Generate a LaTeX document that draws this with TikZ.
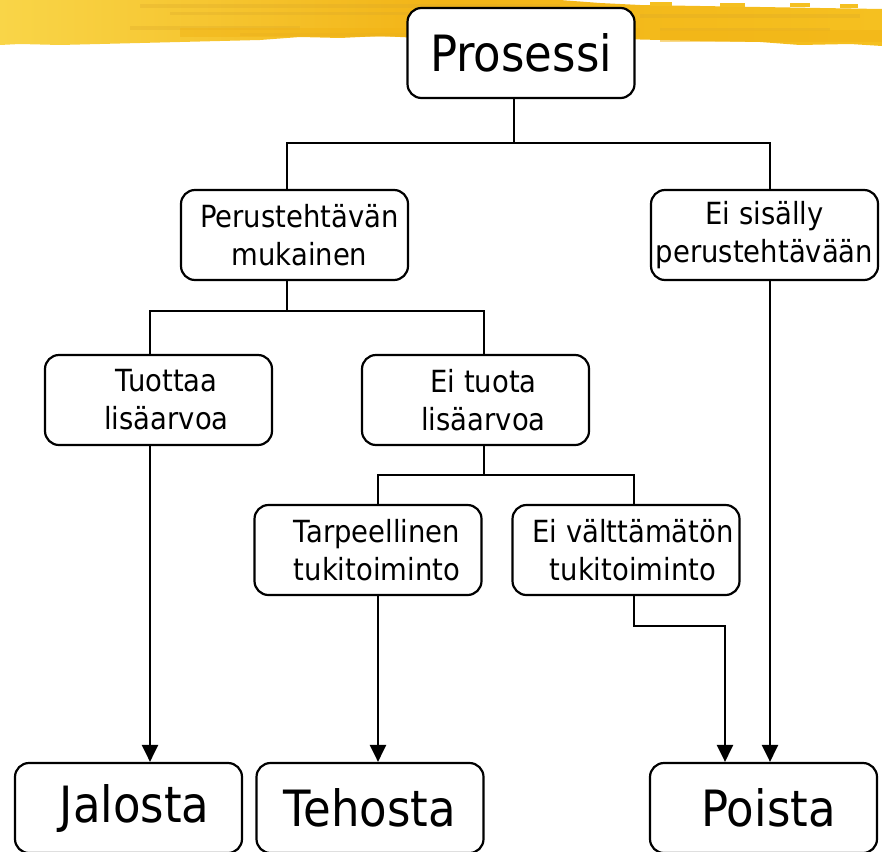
\documentclass[tikz,border=0pt]{standalone}
\usepackage{fontspec}
\setmainfont{DejaVu Sans}[FakeStretch=0.9]
\usetikzlibrary{arrows.meta}
\definecolor{brushA}{HTML}{F9D548}
\definecolor{brushB}{HTML}{F5C020}
\definecolor{brushC}{HTML}{F2B416}
\definecolor{brushD}{HTML}{D8A62A}
\tikzset{
  box/.style={draw, line width=2.2pt, rounded corners=14pt, fill=white,
    minimum width=227pt, minimum height=90pt, inner sep=0pt, align=center},
  small/.style={box, font=\fontsize{30.5}{38}\selectfont},
  big/.style={box, font=\fontsize{50}{60}\selectfont},
  wire/.style={line width=2.5pt},
  arr/.style={wire, -{Triangle[length=17pt,width=16pt]}},
  streak/.style={fill=brushD, opacity=0.28},
}
\newcommand{\sh}[1]{\hspace*{#1}}
\begin{document}
\begin{tikzpicture}[x=1pt,y=-1pt]
\useasboundingbox (0,0) rectangle (882,851);

% painted banner across the top
\shade[left color=brushA, right color=brushB, middle color=brushC]
  (0,0) -- (560,0) -- (600,3) -- (640,5) -- (700,6) -- (760,7) -- (820,8) -- (882,9)
  -- (882,46) -- (850,44) -- (800,45) -- (760,42) -- (700,41) -- (660,40)
  -- (620,39) -- (580,38) -- (520,39) -- (460,38) -- (420,38) -- (380,36)
  -- (340,38) -- (300,37) -- (260,40) -- (220,41) -- (180,42) -- (140,43)
  -- (100,44) -- (60,45) -- (20,44) -- (0,45) -- cycle;
\fill[streak] (140,4) rectangle (560,8);
\fill[streak] (170,12) rectangle (520,15);
\fill[streak] (130,26) rectangle (300,30);
\fill[streak] (240,33) rectangle (420,36);
\fill[streak] (640,14) rectangle (860,18);
\fill[streak] (660,28) rectangle (830,31);
\fill[brushC, opacity=0.5] (180,28) rectangle (640,37);
\fill[brushC, opacity=0.5] (660,30) rectangle (882,42);
\fill[brushB] (650,2) rectangle (672,6);
\fill[brushB] (720,3) rectangle (745,7);
\fill[brushB] (790,3) rectangle (810,7);
\fill[brushB] (840,4) rectangle (858,8);

% boxes
\node[big]   (pros)  at (521,53)    {Prosessi};
\node[small] (peru)  at (294.5,235) {\sh{10pt}Perustehtävän\\\sh{10pt}mukainen};
\node[small] (eisis) at (764.5,235) {Ei sisälly\\perustehtävään};
\node[small] (tuot)  at (158.5,400) {\sh{16pt}Tuottaa\\\sh{16pt}lisäarvoa};
\node[small] (eituo) at (475.5,400) {\sh{16pt}Ei tuota\\\sh{16pt}lisäarvoa};
\node[small] (tarp)  at (368,550)   {\sh{18pt}Tarpeellinen\\\sh{18pt}tukitoiminto};
\node[small] (eiva)  at (626,550)   {\sh{14pt}Ei välttämätön\\\sh{14pt}tukitoiminto};
\node[big]   (jal)   at (128.5,808) {\sh{12pt}Jalosta};
\node[big]   (teh)   at (370,808)   {Tehosta};
\node[big]   (poi)   at (763.5,808) {\sh{10pt}Poista};

% junction points of the tree
\coordinate (j1)  at (514,143);
\coordinate (j1l) at (287,143);
\coordinate (j1r) at (770,143);
\coordinate (j2)  at (287,311);
\coordinate (j2l) at (150,311);
\coordinate (j2r) at (484,311);
\coordinate (j3)  at (484,475);
\coordinate (j3l) at (378,475);
\coordinate (j3r) at (634,475);
\coordinate (k1)  at (634,626);
\coordinate (k2)  at (725,626);

% branches
\draw[wire] (j1 |- pros.south) -- (j1);
\draw[wire] (j1l |- peru.north) -- (j1l) -- (j1r) -- (j1r |- eisis.north);
\draw[wire] (j2 |- peru.south) -- (j2);
\draw[wire] (j2l |- tuot.north) -- (j2l) -- (j2r) -- (j2r |- eituo.north);
\draw[wire] (j3 |- eituo.south) -- (j3);
\draw[wire] (j3l |- tarp.north) -- (j3l) -- (j3r) -- (j3r |- eiva.north);

% outcomes
\draw[arr] (j2l |- tuot.south) -- (j2l |- jal.north);
\draw[arr] (j3l |- tarp.south) -- (j3l |- teh.north);
\draw[arr] (k1 |- eiva.south) -- (k1) -- (k2) -- (k2 |- poi.north);
\draw[arr] (j1r |- eisis.south) -- (j1r |- poi.north);
\end{tikzpicture}
\end{document}
